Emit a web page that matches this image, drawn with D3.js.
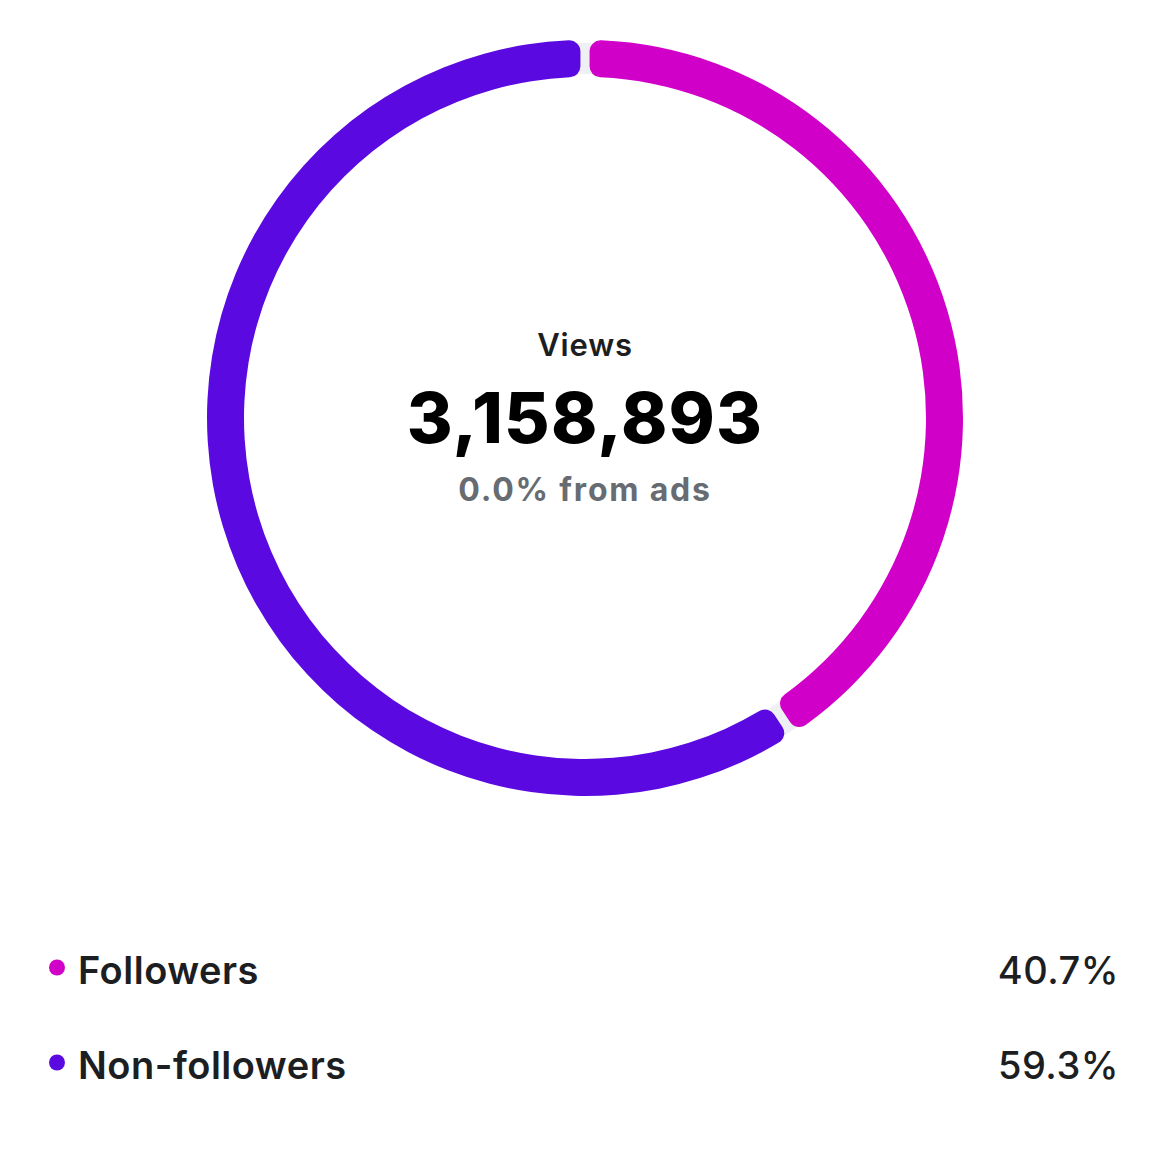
<!DOCTYPE html>
<html>
<head>
<meta charset="utf-8">
<script src="https://cdn.jsdelivr.net/npm/d3@7"></script>
<style>
  html, body { margin: 0; padding: 0; background: #fff; }
  svg { display: block; font-family: Inter, "Noto Sans", sans-serif; }
</style>
</head>
<body>
<div class="donut-chart"></div>
<script>
// data
const categories = ['Followers', 'Non-followers'];
const shares = [40.7, 59.3];
const colors = ['#d100c8', '#5a0ae0'];
const totalViews = 3158893;
const adsShare = 0.0;

const svg_width = 1169;
const svg_height = 1169;
const cx = 585, cy = 418;
const outerR = 378, innerR = 341;

const svg = d3.select('.donut-chart').append('svg')
    .attr('width', svg_width).attr('height', svg_height);

const g = svg.append('g').attr('transform', `translate(${cx},${cy})`);

// light track behind the segments (shows in the gaps)
g.append('path')
    .attr('d', d3.arc().innerRadius(innerR + 3).outerRadius(outerR - 3)
        .startAngle(0).endAngle(2 * Math.PI))
    .style('fill', '#eff0f4');

const pie = d3.pie().sort(null).value(d => d.v).padAngle(0.018);
const arc = d3.arc().innerRadius(innerR).outerRadius(outerR).cornerRadius(11);

const pieData = pie(categories.map((c, i) => ({ name: c, v: shares[i], color: colors[i] })));

g.selectAll('.slice')
    .data(pieData)
    .enter()
    .append('path').attr('class', 'slice')
    .attr('d', arc)
    .style('fill', d => d.data.color);

// centre texts
g.append('text').text('Views')
    .attr('x', 0).attr('y', -62)
    .attr('text-anchor', 'middle')
    .style('font-size', '31px').style('font-weight', 600).style('fill', '#1c1e21')
    .style('letter-spacing', '0.8px');

g.append('text').text(d3.format(',')(totalViews))
    .attr('x', 0).attr('y', 25)
    .attr('text-anchor', 'middle')
    .style('font-size', '70px').style('font-weight', 800).style('fill', '#000')
    .style('letter-spacing', '1.2px');

g.append('text').text(`${adsShare.toFixed(1)}% from ads`)
    .attr('x', 0).attr('y', 83)
    .attr('text-anchor', 'middle')
    .style('font-size', '32px').style('font-weight', 700).style('fill', '#676b72')
    .style('letter-spacing', '1.8px');

// legend
const legend = svg.append('g').attr('class', 'legend');
const rowY = d3.scaleBand().domain(categories).range([936, 1126]);

const rows = legend.selectAll('.row')
    .data(pieData)
    .enter().append('g').attr('class', 'row')
    .attr('transform', d => `translate(0,${rowY(d.data.name) + rowY.bandwidth() / 2})`);

rows.append('circle')
    .attr('cx', 57).attr('cy', -16).attr('r', 8)
    .style('fill', d => d.data.color);

rows.append('text').text(d => d.data.name)
    .attr('x', 78).attr('y', 0)
    .style('font-size', '38px').style('font-weight', 600).style('fill', '#1c1e21')
    .style('letter-spacing', '0.5px');

rows.append('text').text(d => `${d.data.v.toFixed(1)}%`)
    .attr('x', 1119).attr('y', 0)
    .attr('text-anchor', 'end')
    .style('font-size', '38px').style('font-weight', 500).style('fill', '#1c1e21')
    .style('letter-spacing', '0.5px');
</script>
</body>
</html>
